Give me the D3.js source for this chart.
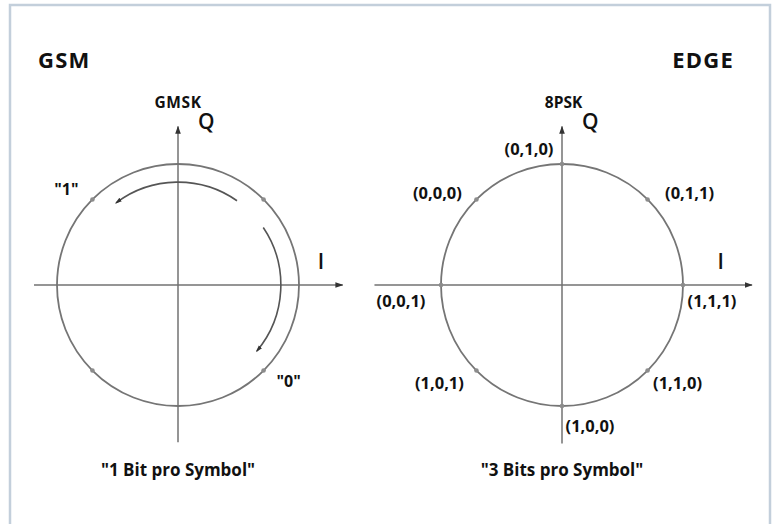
<!DOCTYPE html>
<html lang="en">
<head>
<meta charset="utf-8">
<title>GSM vs EDGE</title>
<script src="https://cdn.jsdelivr.net/npm/d3@7"></script>
<style>
  body { margin: 0; background: #fff; }
  svg text { font-family: "Open Sans", "DejaVu Sans", sans-serif; fill: #111; }
</style>
</head>
<body>
<script>
// panel titles and captions
var titles = ["GSM", "EDGE"];
var schemes = ["GMSK", "8PSK"];
var captions = ['"1 Bit pro Symbol"', '"3 Bits pro Symbol"'];

// constellation points (angle in degrees on the unit circle)
var gmskAngles = [45, 135, 225, 315];
var gmskLabels = ['"1"', '"0"'];
var gmskLabelAngles = [135, 315];

var psk8Angles = [90, 135, 45, 180, 0, 225, 315, 270];
var psk8Labels = ["(0,1,0)", "(0,0,0)", "(0,1,1)", "(0,0,1)", "(1,1,1)", "(1,0,1)", "(1,1,0)", "(1,0,0)"];

// rotation arrows of GMSK: [start, end] angle in degrees
var gmskArcs = [[55, 127], [34, -40]];

var W = 777, H = 524;
var svg = d3.select("body").append("svg").attr("width", W).attr("height", H);

// frame
svg.append("rect")
   .attr("x", 10).attr("y", 5)
   .attr("width", 760).attr("height", 540)
   .attr("fill", "none").attr("stroke", "#c3cfdb").attr("stroke-width", 2.5);

var defs = svg.append("defs");
defs.append("marker").attr("id", "ax")
    .attr("viewBox", "0 0 10 10").attr("refX", 9).attr("refY", 5)
    .attr("markerWidth", 8).attr("markerHeight", 8).attr("markerUnits", "userSpaceOnUse")
    .attr("orient", "auto")
  .append("path").attr("d", "M0,1.5L10,5L0,8.5Z").attr("fill", "#333");
defs.append("marker").attr("id", "rot")
    .attr("viewBox", "0 0 10 10").attr("refX", 8).attr("refY", 5)
    .attr("markerWidth", 7).attr("markerHeight", 7).attr("markerUnits", "userSpaceOnUse")
    .attr("orient", "auto")
  .append("path").attr("d", "M0,2L10,5L0,8Z").attr("fill", "#333");

var R = 121;
var panels = [
  { cx: 178, cy: 285, iMin: -1.19, iMax: 1.36, qMin: -1.3, qMax: 1.31, iLab: 1.155,
    titleX: 38, titleAnchor: "start", schemeDx: 0 },
  { cx: 562, cy: 285, iMin: -1.55, iMax: 1.57, qMin: -1.31, qMax: 1.31, iLab: 1.285,
    titleX: 734, titleAnchor: "end", schemeDx: 1.5 }
];

function rad(a) { return a * Math.PI / 180; }

panels.forEach(function(p, k) {
  var x = d3.scaleLinear().domain([-1, 1]).range([p.cx - R, p.cx + R]);
  var y = d3.scaleLinear().domain([-1, 1]).range([p.cy + R, p.cy - R]);
  var g = svg.append("g");

  // title
  g.append("text").attr("x", p.titleX).attr("y", 68)
   .attr("text-anchor", p.titleAnchor)
   .attr("font-size", 22).attr("font-weight", 700).attr("letter-spacing", 1.2)
   .text(titles[k]);

  // circle
  g.append("circle").attr("cx", x(0)).attr("cy", y(0)).attr("r", x(1) - x(0))
   .attr("fill", "none").attr("stroke", "#757575").attr("stroke-width", 1.8);

  // axes
  g.append("line")
   .attr("x1", x(p.iMin)).attr("x2", x(p.iMax)).attr("y1", y(0)).attr("y2", y(0))
   .attr("stroke", "#727272").attr("stroke-width", 1.5).attr("marker-end", "url(#ax)");
  g.append("line")
   .attr("x1", x(0)).attr("x2", x(0)).attr("y1", y(p.qMin)).attr("y2", y(p.qMax))
   .attr("stroke", "#727272").attr("stroke-width", 1.5).attr("marker-end", "url(#ax)");

  g.append("text").attr("x", x(0) + 20).attr("y", y(p.qMax) + 3)
   .attr("font-size", 21).attr("font-weight", 600).text("Q");
  g.append("text").attr("x", x(p.iLab)).attr("y", y(0) - 16)
   .attr("font-size", 21).attr("font-weight", 600).text("I");

  g.append("text").attr("x", x(0) + p.schemeDx).attr("y", 108)
   .attr("text-anchor", "middle")
   .attr("font-size", 15.5).attr("font-weight", 700).attr("letter-spacing", k === 0 ? 0.6 : 0)
   .text(schemes[k]);

  g.append("text").attr("x", x(0)).attr("y", 476)
   .attr("text-anchor", "middle")
   .attr("font-size", 17).attr("font-weight", 700).text(captions[k]);

  var angles = k === 0 ? gmskAngles : psk8Angles;
  g.selectAll("circle.pt").data(angles).enter().append("circle")
   .attr("class", "pt")
   .attr("cx", function(a) { return x(Math.cos(rad(a))); })
   .attr("cy", function(a) { return y(Math.sin(rad(a))); })
   .attr("r", 2.3).attr("fill", "#8c8c8c");

  if (k === 0) {
    var ir = 0.85;
    gmskArcs.forEach(function(a) {
      var pa = d3.path();
      var s = -rad(a[0]), e = -rad(a[1]);
      pa.arc(x(0), y(0), (x(1) - x(0)) * ir, s, e, e < s);
      g.append("path").attr("d", pa.toString())
       .attr("fill", "none").attr("stroke", "#555").attr("stroke-width", 1.6)
       .attr("marker-end", "url(#rot)");
    });
    var gOff = [[-26, -9], [25, 11]];
    g.selectAll("text.lb").data(gmskLabels).enter().append("text")
     .attr("class", "lb")
     .attr("x", function(d, i) { return x(Math.cos(rad(gmskLabelAngles[i]))) + gOff[i][0]; })
     .attr("y", function(d, i) { return y(Math.sin(rad(gmskLabelAngles[i]))) + gOff[i][1] + 5; })
     .attr("text-anchor", "middle")
     .attr("font-size", 16).attr("font-weight", 700).text(function(d) { return d; });
  } else {
    var off = [[-33, -15], [-39, -6], [42, -6], [-40, 16], [29, 16], [-37, 12], [30, 12], [28, 20]];
    g.selectAll("text.lb").data(psk8Labels).enter().append("text")
     .attr("class", "lb")
     .attr("x", function(d, i) { return x(Math.cos(rad(psk8Angles[i]))) + off[i][0]; })
     .attr("y", function(d, i) { return y(Math.sin(rad(psk8Angles[i]))) + off[i][1] + 6; })
     .attr("text-anchor", "middle")
     .attr("font-size", 16.5).attr("font-weight", 700).text(function(d) { return d; });
  }
});
</script>
</body>
</html>
